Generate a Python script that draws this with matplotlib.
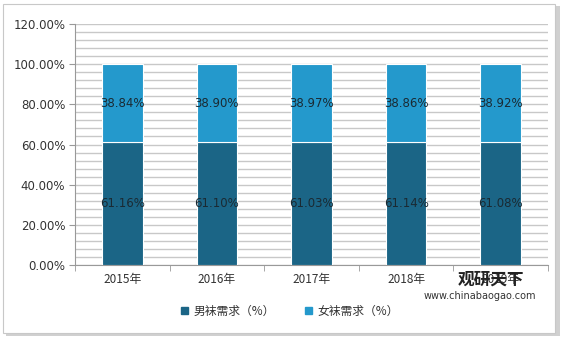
import matplotlib
matplotlib.use("Agg")
import matplotlib.pyplot as plt
from matplotlib.patches import Rectangle
import numpy as np

plt.rcParams['font.family'] = ['Noto Sans CJK SC', 'DejaVu Sans']

years = ['2015年', '2016年', '2017年', '2018年', '2019年']
male = [61.16, 61.10, 61.03, 61.14, 61.08]
female = [38.84, 38.90, 38.97, 38.86, 38.92]
series_names = ['男袜需求（%）', '女袜需求（%）']
yticks = [0, 20, 40, 60, 80, 100, 120]

c_male = '#1b6586'
c_female = '#2499cc'

fig = plt.figure(figsize=(5.72, 3.43), dpi=100)
fig.patch.set_facecolor('white')
# outer frame with shadow
fig.patches.append(Rectangle((6/572, 1-336/343), 554/572, 330/343, transform=fig.transFigure,
                             facecolor='#d0d0d0', edgecolor='none', zorder=-2))
fig.patches.append(Rectangle((3/572, 1-333/343), 552/572, 329/343, transform=fig.transFigure,
                             facecolor='white', edgecolor='#c8c8c8', lw=0.8, zorder=-1))

ax = fig.add_axes([75/572, 1-265/343, 473/572, 241/343])
ax.set_facecolor('none')
x = np.arange(len(years))
w = 0.43
ax.bar(x, male, w, color=c_male, edgecolor='white', linewidth=0.8, zorder=3)
ax.bar(x, female, w, bottom=male, color=c_female, edgecolor='white', linewidth=0.8, zorder=3)
for i in range(len(years)):
    ax.text(x[i], male[i] / 2, f'{male[i]:.2f}%', ha='center', va='center', fontsize=8.5,
            color='#1a2a33', family='DejaVu Sans', zorder=4)
    ax.text(x[i], male[i] + female[i] / 2, f'{female[i]:.2f}%', ha='center', va='center',
            fontsize=8.5, color='#1a2a33', family='DejaVu Sans', zorder=4)

ax.set_xlim(-0.5, len(years) - 0.5)
ax.set_ylim(0, 120)
ax.set_yticks(yticks)
ax.set_yticklabels([f'{v:.2f}%' for v in yticks], fontsize=8.5, color='#333333', family='DejaVu Sans')
ax.set_yticks(np.arange(0, 121, 4), minor=True)
ax.yaxis.grid(True, which='both', color='#c8c8c8', lw=1.0, zorder=0)
ax.set_axisbelow(True)
ax.set_xticks(x)
ax.set_xticklabels(years, fontsize=8.5, color='#333333')
ax.set_xticks(np.arange(-0.5, len(years), 1), minor=True)
ax.tick_params(axis='x', which='major', length=0, pad=6)
ax.tick_params(axis='x', which='minor', length=4, color='#999999')
ax.tick_params(axis='y', which='major', length=4, color='#999999', pad=3)
ax.tick_params(axis='y', which='minor', length=0)
for s in ['top', 'right']:
    ax.spines[s].set_visible(False)
ax.spines['left'].set_color('#999999')
ax.spines['bottom'].set_color('#999999')

handles = [Rectangle((0, 0), 1, 1, color=c_male), Rectangle((0, 0), 1, 1, color=c_female)]
fig.legend(handles, series_names, loc='center', bbox_to_anchor=(290/572, 1-311/343), ncol=2,
           frameon=False, fontsize=8.5, handlelength=0.6, handleheight=0.6, columnspacing=2.5,
           handletextpad=0.5, labelcolor='#333333')

# watermark
fig.text(458/572, 1-280/343, '观研天下', fontsize=12, fontweight='bold', color='#222222',
         ha='left', va='center')
fig.text(480/572, 1-296/343, 'www.chinabaogao.com', fontsize=7, color='#333333',
         ha='center', va='center', family='DejaVu Sans')

fig.savefig('out.png', dpi=100)
